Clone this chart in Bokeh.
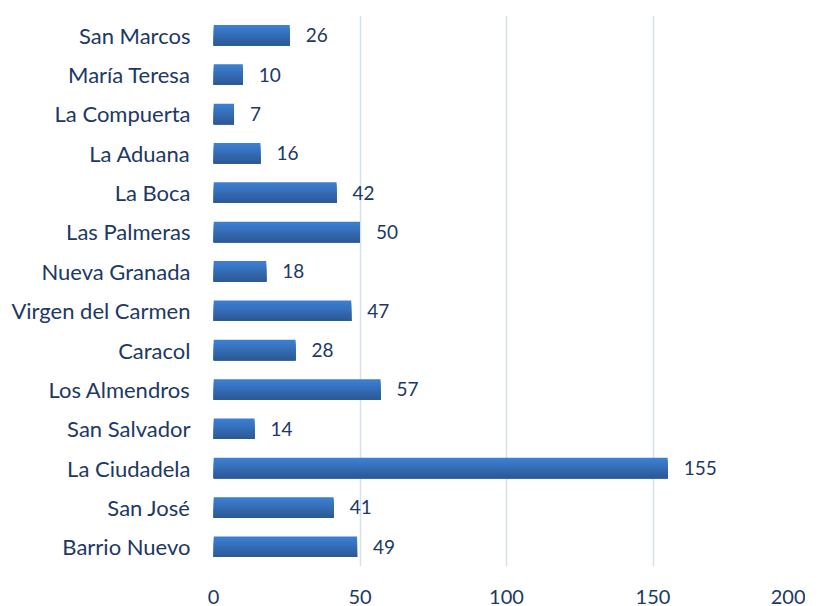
from bokeh.plotting import figure
from bokeh.models import FactorRange, ColumnDataSource, LabelSet
from bokeh.core.properties import value
from bokeh.transform import dodge
from bokeh.embed import file_html
from bokeh.resources import INLINE

categories = ["San Marcos", "María Teresa", "La Compuerta", "La Aduana", "La Boca",
              "Las Palmeras", "Nueva Granada", "Virgen del Carmen", "Caracol",
              "Los Almendros", "San Salvador", "La Ciudadela", "San José", "Barrio Nuevo"]
values = [26, 10, 7, 16, 42, 50, 18, 47, 28, 57, 14, 155, 41, 49]
x_ticks = [0, 50, 100, 150, 200]

FONT = "Lato"
TEXT_COLOR = "#203864"

src = ColumnDataSource(dict(cat=categories, val=values, lab=[str(v) for v in values]))

p = figure(width=805, height=606, output_backend="svg", toolbar_location=None,
           y_range=FactorRange(*categories[::-1]), x_range=(0, 200),
           min_border_left=213, min_border_right=6, min_border_top=15, min_border_bottom=30)
p.outline_line_color = None
p.background_fill_color = "white"
p.border_fill_color = "white"

p.ygrid.grid_line_color = None
p.xgrid.grid_line_color = "#D6E0EE"
p.xgrid.grid_line_width = 1.5
p.xgrid.ticker = x_ticks

# gradient simulated by overlapping strips (each runs to the bar bottom)
n = 10
bar_h = 0.52
strip = bar_h / n
top = (60, 127, 210)
bot = (44, 90, 152)
for i in range(n):
    t = i / (n - 1)
    c = tuple(int(round(top[k] + (bot[k] - top[k]) * t)) for k in range(3))
    h = bar_h - strip * i
    off = -bar_h / 2 + h / 2
    p.hbar(y=dodge("cat", off, range=p.y_range), right="val", left=0, height=h,
           source=src, fill_color="#%02x%02x%02x" % c, line_color=None)

labels = LabelSet(x="val", y="cat", text="lab", source=src, x_offset=16, text_align="left",
                  text_baseline="middle", text_font=value(FONT), text_font_size="19px",
                  text_color=TEXT_COLOR)
p.add_layout(labels)

p.xaxis.ticker = x_ticks
p.xaxis.axis_line_color = None
p.xaxis.major_tick_line_color = None
p.xaxis.minor_tick_line_color = None
p.xaxis.major_label_text_font = FONT
p.xaxis.major_label_text_font_size = "20px"
p.xaxis.major_label_text_color = TEXT_COLOR
p.xaxis.major_label_standoff = 17

p.yaxis.axis_line_color = None
p.yaxis.major_tick_line_color = None
p.yaxis.major_label_text_font = FONT
p.yaxis.major_label_text_font_size = "22px"
p.yaxis.major_label_text_color = TEXT_COLOR
p.yaxis.major_label_standoff = 17

open("out.html", "w").write(file_html(p, INLINE))
